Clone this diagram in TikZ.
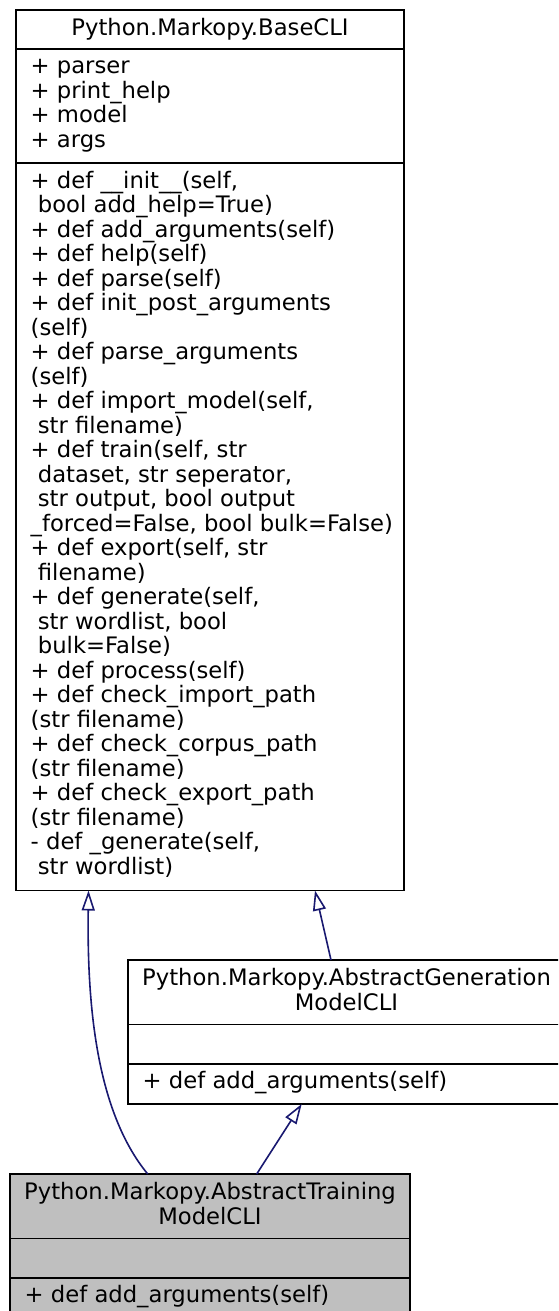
\documentclass[tikz,border=0pt]{standalone}
\usepackage{fontspec}
\setmainfont{DejaVu Sans}
\usetikzlibrary{arrows.meta,calc}
\definecolor{edgeblue}{HTML}{191970}
\definecolor{hlgray}{HTML}{BFBFBF}
\newcommand{\umlrows}[1]{\vtop{\baselineskip=24.5pt\lineskiplimit=-100pt\lineskip=0pt\halign{##\hfil\cr#1\crcr}}}
\newcommand{\umlcentre}[1]{\vtop{\baselineskip=24.5pt\lineskiplimit=-100pt\lineskip=0pt\halign{\hfil##\hfil\cr#1\crcr}}}
\begin{document}
\begin{tikzpicture}[x=1pt,y=-1pt,
  box/.style={draw=black, line width=1.7pt, anchor=north west, inner sep=0pt, outer sep=0pt},
  sepline/.style={draw=black, line width=1.7pt},
  txt/.style={anchor=base west, inner sep=0pt, font=\fontsize{22.7pt}{24.5pt}\selectfont},
  ttl/.style={anchor=base, inner sep=0pt, font=\fontsize{22.7pt}{24.5pt}\selectfont},
  inh/.style={draw=edgeblue, line width=1.6pt, -{Triangle[length=20pt,width=13pt,fill=white,line width=1.6pt]}}]
\useasboundingbox (0,0) rectangle (558,1311);
\clip (0,0) rectangle (558,1311);
\fill[white] (0,0) rectangle (558,1311);

% BaseCLI
\node[box, minimum width=388pt, minimum height=880.5pt] (base) at (16,10) {};
\draw[sepline] (16,49) -- (404,49);
\draw[sepline] (16,163) -- (404,163);
\node[ttl] (basettl) at (210,35.7) {Python.Markopy.BaseCLI};
\node[txt] (baseattr) at (30.5,74) {\umlrows{+ parser\cr
+ print\_help\cr
+ model\cr
+ args}};
\node[txt] (basemeth) at (30.5,188) {\umlrows{+ def \_\_init\_\_(self,\cr
\ bool add\_help=True)\cr
+ def add\_arguments(self)\cr
+ def help(self)\cr
+ def parse(self)\cr
+ def init\_post\_arguments\cr
(self)\cr
+ def parse\_arguments\cr
(self)\cr
+ def import\_model(self,\cr
\ str filename)\cr
+ def train(self, str\cr
\ dataset, str seperator,\cr
\ str output, bool output\cr
\_forced=False, bool bulk=False)\cr
+ def export(self, str\cr
\ filename)\cr
+ def generate(self,\cr
\ str wordlist, bool\cr
\ bulk=False)\cr
+ def process(self)\cr
+ def check\_import\_path\cr
(str filename)\cr
+ def check\_corpus\_path\cr
(str filename)\cr
+ def check\_export\_path\cr
(str filename)\cr
- def \_generate(self,\cr
\ str wordlist)}};

% AbstractGenerationModelCLI
\node[box, minimum width=437pt, minimum height=144pt] (gen) at (128,960) {};
\draw[sepline] (128,1024.5) -- (565,1024.5);
\draw[sepline] (128,1064) -- (565,1064);
\node[ttl] (genttl) at (346.5,985.7) {\umlcentre{Python.Markopy.AbstractGeneration\cr ModelCLI}};
\node[txt] (genmeth) at (142.5,1088.5) {+ def add\_arguments(self)};

% AbstractTrainingModelCLI
\node[box, fill=hlgray, minimum width=400pt, minimum height=143pt] (train) at (10,1174) {};
\draw[sepline] (10,1238.5) -- (410,1238.5);
\draw[sepline] (10,1278) -- (410,1278);
\node[ttl] (trainttl) at (210,1199.7) {\umlcentre{Python.Markopy.AbstractTraining\cr ModelCLI}};
\node[txt] (trainmeth) at (24.5,1302.3) {+ def add\_arguments(self)};

% inheritance edges
\draw[inh] ($(train.north west)+(137.7,0)$) .. controls (95,1110) and (87,1000) .. ($(base.south west)+(72.5,0)$);
\draw[inh] ($(gen.north west)+(203,0)$) -- ($(base.south west)+(299,0)$);
\draw[inh] ($(train.north west)+(246.7,0)$) -- ($(gen.south west)+(173.7,0)$);
\end{tikzpicture}
\end{document}
